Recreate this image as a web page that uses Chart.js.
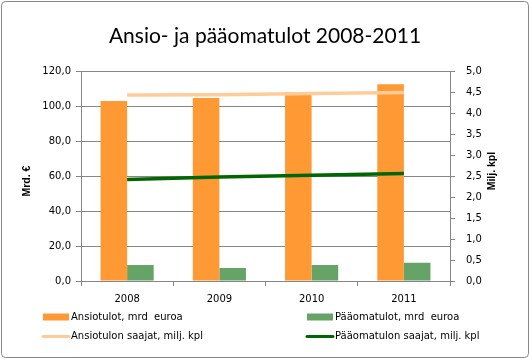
<!DOCTYPE html>
<html><head><meta charset="utf-8">
<script src="https://cdn.jsdelivr.net/npm/chart.js@4.4.0/dist/chart.umd.min.js"></script>
<style>html,body{margin:0;padding:0;background:#fff;overflow:hidden;}</style>
</head><body>
<canvas id="c" width="530" height="359"></canvas>
<script>
const categories = ['2008', '2009', '2010', '2011'];
const ansiotulot = [102.9, 104.6, 108.0, 112.6];
const paaomatulot = [9.1, 7.4, 9.1, 10.5];
const ansiotulonSaajat = [4.43, 4.44, 4.47, 4.49];
const paaomatulonSaajat = [2.42, 2.48, 2.52, 2.56];
const seriesLabels = ['Ansiotulot, mrd  euroa', 'Pääomatulot, mrd  euroa', 'Ansiotulon saajat, milj. kpl', 'Pääomatulon saajat, milj. kpl'];
const titleText = 'Ansio- ja pääomatulot 2008-2011';
const leftAxisTitle = 'Mrd. €';
const rightAxisTitle = 'Milj. kpl';

const GRID = '#868686';
const TICKFONT = {family: 'DejaVu Sans', size: 10};
const fmt = v => Number(v).toFixed(1).replace('.', ',');

const framePlugin = {
  id: 'frame',
  beforeDraw(chart) {
    const ctx = chart.ctx;
    ctx.save();
    ctx.fillStyle = '#fff';
    ctx.fillRect(0, 0, chart.width, chart.height);
    ctx.strokeStyle = GRID;
    ctx.lineWidth = 1;
    ctx.beginPath();
    ctx.roundRect(1.5, 1.5, chart.width - 3, chart.height - 3, 4);
    ctx.stroke();
    ctx.restore();
  },
  afterDraw(chart) {
    const ctx = chart.ctx;
    const ca = chart.chartArea;
    ctx.save();
    ctx.fillStyle = '#000';
    ctx.font = 'bold 10.5px "Liberation Sans"';
    ctx.textAlign = 'center';
    ctx.textBaseline = 'middle';
    ctx.translate(27, (ca.top + ca.bottom) / 2 + 5);
    ctx.rotate(-Math.PI / 2);
    ctx.fillText(leftAxisTitle, 0, 0);
    ctx.setTransform(1, 0, 0, 1, 0, 0);
    ctx.translate(492, (ca.top + ca.bottom) / 2 - 5);
    ctx.rotate(-Math.PI / 2);
    ctx.fillText(rightAxisTitle, 0, 0);
    ctx.setTransform(1, 0, 0, 1, 0, 0);
    const ds = chart.data.datasets;
    const cols = [43, 307];
    const rows = [317.5, 336.5];
    ctx.font = '10px "DejaVu Sans"';
    ctx.textAlign = 'left';
    ds.forEach((d, k) => {
      const x = cols[k % 2], y = rows[Math.floor(k / 2)];
      if (d.type === 'line') {
        ctx.strokeStyle = d.borderColor;
        ctx.lineWidth = 3;
        ctx.lineCap = 'round';
        ctx.beginPath();
        ctx.moveTo(x, y);
        ctx.lineTo(x + 26, y);
        ctx.stroke();
      } else {
        ctx.fillStyle = d.backgroundColor;
        ctx.fillRect(x, y - 4, 26, 7);
      }
      ctx.fillStyle = '#000';
      ctx.fillText(d.label, x + 28, y);
    });
    ctx.restore();
  }
};

new Chart(document.getElementById('c'), {
  data: {
    labels: categories,
    datasets: [
      {type: 'bar', label: seriesLabels[0], data: ansiotulot, backgroundColor: '#FF9933', yAxisID: 'y', order: 2, categoryPercentage: 0.576, barPercentage: 1.0},
      {type: 'bar', label: seriesLabels[1], data: paaomatulot, backgroundColor: '#66A366', yAxisID: 'y', order: 2, categoryPercentage: 0.576, barPercentage: 1.0},
      {type: 'line', label: seriesLabels[2], data: ansiotulonSaajat, borderColor: '#FFCC99', backgroundColor: '#FFCC99', borderWidth: 3.5, pointRadius: 0, yAxisID: 'y1', order: 1},
      {type: 'line', label: seriesLabels[3], data: paaomatulonSaajat, borderColor: '#006600', backgroundColor: '#006600', borderWidth: 3.5, pointRadius: 0, yAxisID: 'y1', order: 0}
    ]
  },
  options: {
    responsive: false,
    animation: false,
    devicePixelRatio: 1,
    layout: {padding: {left: 0, right: 0, top: 0, bottom: 54}},
    plugins: {
      legend: {display: false},
      tooltip: {enabled: false},
      title: {
        display: true, text: titleText, color: '#000',
        font: {family: 'Lato', size: 21, weight: 'normal'},
        padding: {top: 24, bottom: 22}
      }
    },
    scales: {
      x: {
        offset: true,
        grid: {offset: true, drawOnChartArea: false, drawTicks: true, tickLength: 5, color: GRID},
        border: {color: GRID},
        ticks: {font: TICKFONT, color: '#000', padding: 7},
        afterFit: s => { s.height = 24; }
      },
      y: {
        position: 'left', min: 0, max: 120,
        grid: {color: GRID, tickLength: 5},
        border: {color: GRID},
        ticks: {stepSize: 20, font: TICKFONT, color: '#000', padding: 5, callback: fmt},
        afterFit: s => { s.width = 81; }
      },
      y1: {
        position: 'right', min: 0, max: 5,
        grid: {drawOnChartArea: false, color: GRID, tickLength: 5},
        border: {color: GRID},
        ticks: {stepSize: 0.5, font: TICKFONT, color: '#000', padding: 11, callback: fmt},
        afterFit: s => { s.width = 80; }
      }
    }
  },
  plugins: [framePlugin]
});
</script>
</body></html>
